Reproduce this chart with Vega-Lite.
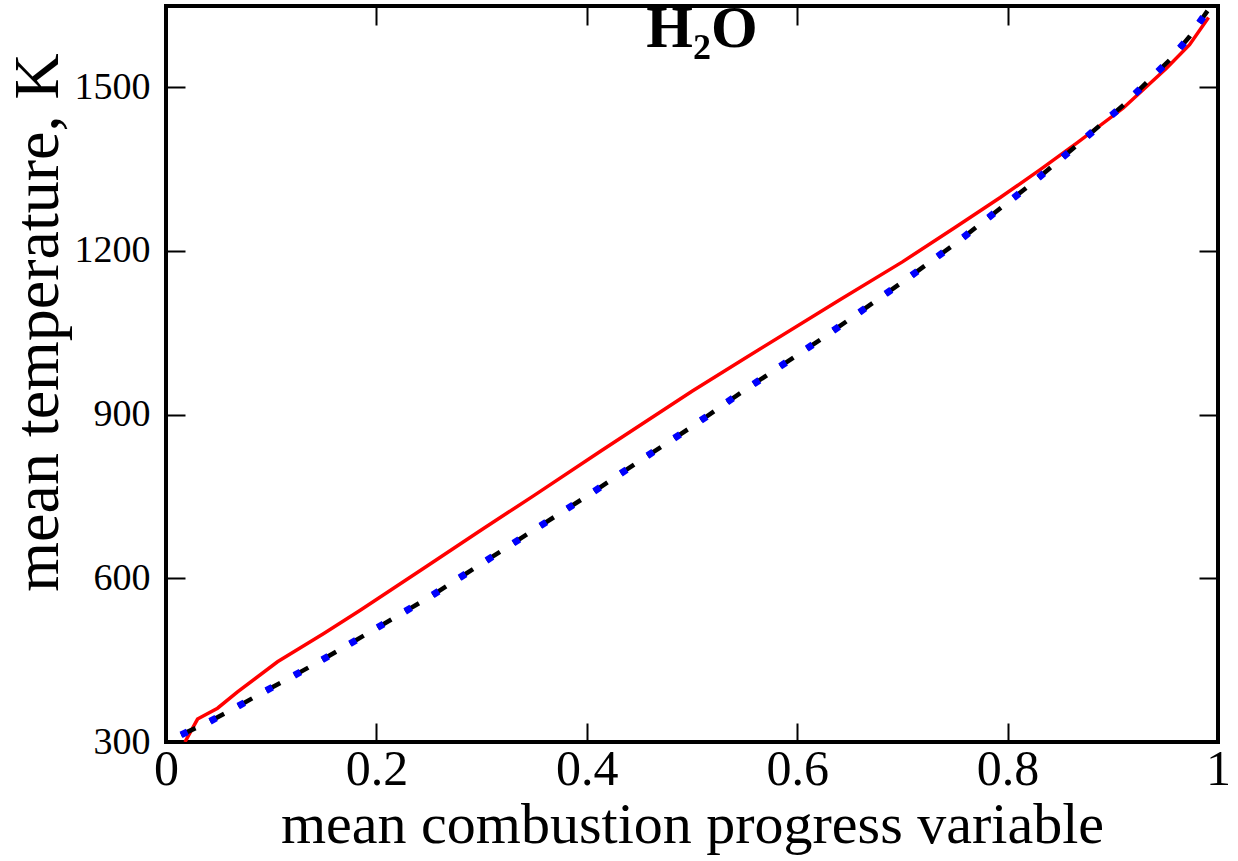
{
  "$schema": "https://vega.github.io/schema/vega-lite/v6.json",
  "width": 1052,
  "height": 736,
  "autosize": {"type": "none"},
  "padding": {"left": 166, "top": 6, "right": 20, "bottom": 119},
  "background": "white",
  "config": {
    "view": {"stroke": "black", "strokeWidth": 4},
    "font": "Liberation Serif",
    "axis": {
      "grid": false,
      "domain": false,
      "tickColor": "black",
      "tickSize": -19,
      "tickWidth": 2,
      "labelColor": "black",
      "titleColor": "black",
      "labelFont": "Liberation Serif",
      "titleFont": "Liberation Serif",
      "titleFontWeight": "normal",
      "labelFlush": false
    }
  },
  "title": {
    "text": "H₂O",
    "orient": "top",
    "anchor": "middle",
    "frame": "group",
    "offset": -102,
    "baseline": "alphabetic",
    "fontSize": 60,
    "font": "Liberation Serif",
    "fontWeight": "bold",
    "color": "black",
    "dx": 10
  },
  "datasets": {
    "red": [
      {"c": 0.018, "T": 300}, {"c": 0.030, "T": 342}, {"c": 0.049, "T": 362}, {"c": 0.068, "T": 392},
      {"c": 0.106, "T": 447}, {"c": 0.150, "T": 499}, {"c": 0.185, "T": 542}, {"c": 0.25, "T": 625},
      {"c": 0.30, "T": 689}, {"c": 0.35, "T": 752}, {"c": 0.413, "T": 833}, {"c": 0.5, "T": 943},
      {"c": 0.55, "T": 1003}, {"c": 0.641, "T": 1111}, {"c": 0.70, "T": 1180}, {"c": 0.75, "T": 1243},
      {"c": 0.793, "T": 1298}, {"c": 0.831, "T": 1349}, {"c": 0.866, "T": 1398}, {"c": 0.910, "T": 1462},
      {"c": 0.951, "T": 1535}, {"c": 0.973, "T": 1578}, {"c": 0.991, "T": 1628}
    ],
    "sim": [
      {"c": 0.0143, "T": 313}, {"c": 0.041, "T": 337}, {"c": 0.068, "T": 365}, {"c": 0.095, "T": 394},
      {"c": 0.120, "T": 420}, {"c": 0.147, "T": 449}, {"c": 0.173, "T": 478}, {"c": 0.25, "T": 565},
      {"c": 0.30, "T": 627}, {"c": 0.35, "T": 689}, {"c": 0.402, "T": 753}, {"c": 0.45, "T": 815},
      {"c": 0.5, "T": 878}, {"c": 0.55, "T": 945}, {"c": 0.627, "T": 1044}, {"c": 0.70, "T": 1143},
      {"c": 0.75, "T": 1213}, {"c": 0.820, "T": 1319}, {"c": 0.866, "T": 1394}, {"c": 0.911, "T": 1469},
      {"c": 0.954, "T": 1550}, {"c": 0.973, "T": 1593}, {"c": 0.990, "T": 1640}
    ]
  },
  "layer": [
    {
      "data": {"name": "red"},
      "mark": {"type": "line", "color": "#ff0000", "strokeWidth": 3.5, "clip": true},
      "encoding": {
        "x": {
          "field": "c", "type": "quantitative",
          "scale": {"domain": [0, 1], "nice": false, "zero": false},
          "axis": {
            "orient": "bottom",
            "values": [0, 0.2, 0.4, 0.6, 0.8, 1],
            "format": "~g",
            "labelFontSize": 50,
            "labelPadding": 21,
            "title": "mean combustion progress variable",
            "titleFontSize": 58,
            "titlePadding": 2
          }
        },
        "y": {
          "field": "T", "type": "quantitative",
          "scale": {"domain": [300, 1649], "nice": false, "zero": false},
          "axis": {
            "orient": "left",
            "values": [300, 600, 900, 1200, 1500],
            "format": "d",
            "labelFontSize": 38,
            "labelPadding": 35,
            "title": "mean temperature, K",
            "titleFontSize": 64,
            "titleBaseline": "alphabetic",
            "titleX": -109,
            "titleY": 316
          }
        }
      }
    },
    {
      "data": {"name": "sim"},
      "mark": {"type": "line", "color": "black", "strokeWidth": 4.5, "strokeDash": [16, 16], "strokeCap": "butt", "clip": true},
      "encoding": {
        "x": {
          "field": "c", "type": "quantitative",
          "scale": {"domain": [0, 1], "nice": false, "zero": false},
          "axis": {"orient": "top", "values": [0, 0.2, 0.4, 0.6, 0.8, 1], "labels": false, "title": null}
        },
        "y": {
          "field": "T", "type": "quantitative",
          "scale": {"domain": [300, 1649], "nice": false, "zero": false},
          "axis": {"orient": "right", "values": [300, 600, 900, 1200, 1500], "labels": false, "title": null}
        }
      }
    },
    {
      "data": {"name": "sim"},
      "mark": {"type": "line", "color": "#0000ff", "strokeWidth": 7, "strokeDash": [7, 25], "strokeCap": "butt", "clip": true},
      "encoding": {
        "x": {
          "field": "c", "type": "quantitative",
          "scale": {"domain": [0, 1], "nice": false, "zero": false},
          "axis": null
        },
        "y": {
          "field": "T", "type": "quantitative",
          "scale": {"domain": [300, 1649], "nice": false, "zero": false},
          "axis": null
        }
      }
    }
  ],
  "resolve": {"axis": {"x": "independent", "y": "independent"}}
}
